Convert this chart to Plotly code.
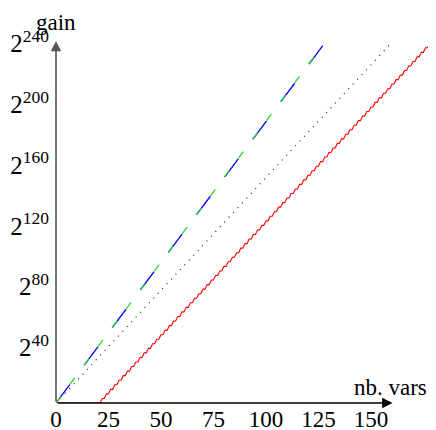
import plotly.graph_objects as go

# ---- data ----
x_ticks = [0, 25, 50, 75, 100, 125, 150]
y_ticks = [40, 80, 120, 160, 200, 240]
y_tick_text = ["2<sup>40</sup>", "2<sup>80</sup>", "2<sup>120</sup>",
               "2<sup>160</sup>", "2<sup>200</sup>", "2<sup>240</sup>"]

blue_n = [0, 129]
blue_gain = [0, 239]

green_n = [0, 124.3]
green_gain = [0, 230.6]

dotted_n = [0, 159.4]
dotted_gain = [0, 236.7]

red_n = list(range(182))
red_gain = [0, 0, 0, 0, 0, 0, 0, 0, 0, 0, 0, 0, 0, 0, 0, 0, 0, 0, 0, 0, 0, 0,
            3, 3, 6, 6, 9, 9, 12, 12, 15, 15, 18, 18, 21, 21, 24, 24, 27, 27, 30, 30,
            33, 33, 36, 36, 39, 39, 42, 42, 45, 45, 48, 48, 51, 51, 54, 54, 57, 57, 60, 60,
            63, 63, 66, 66, 69, 69, 72, 72, 75, 75, 78, 78, 81, 81, 84, 84, 87, 87, 90, 90,
            93, 93, 96, 96, 99, 99, 102, 102, 105, 105, 108, 108, 111, 111, 114, 114, 117, 117, 120, 120,
            123, 123, 126, 126, 129, 129, 132, 132, 135, 135, 138, 138, 141, 141, 144, 144, 147, 147, 150, 150,
            153, 153, 156, 156, 159, 159, 162, 162, 165, 165, 168, 168, 171, 171, 174, 174, 177, 177, 180, 180,
            183, 183, 186, 186, 189, 189, 192, 192, 195, 195, 198, 198, 201, 201, 204, 204, 207, 207, 210, 210,
            213, 213, 216, 216, 219, 219, 222, 222, 225, 225, 228, 228, 231, 231, 234, 234, 237, 237, 240, 240]

x_axis_end = 160.3
y_axis_end = 238.5

FONT = "Liberation Serif"

fig = go.Figure()
fig.add_trace(go.Scatter(x=red_n, y=red_gain, mode="lines",
                         line=dict(color="#ff0000", width=1.1)))
fig.add_trace(go.Scatter(x=dotted_n, y=dotted_gain, mode="lines",
                         line=dict(color="#222222", width=1.2, dash="1px,5.5px")))
fig.add_trace(go.Scatter(x=blue_n, y=blue_gain, mode="lines",
                         line=dict(color="#0000ff", width=1.3, dash="23px,24px")))
fig.add_trace(go.Scatter(x=green_n, y=green_gain, mode="lines",
                         line=dict(color="#22dd22", width=1.3, dash="8px,15.5px")))

# axes with arrows
fig.add_annotation(x=0, y=y_axis_end, ax=0, ay=0, axref="x", ayref="y",
                   xref="x", yref="y", text="", showarrow=True,
                   arrowhead=2, arrowsize=1.3, arrowwidth=1.6, arrowcolor="#555555")
fig.add_annotation(x=x_axis_end, y=0, ax=0, ay=0, axref="x", ayref="y",
                   xref="x", yref="y", text="", showarrow=True,
                   arrowhead=2, arrowsize=1.3, arrowwidth=1.6, arrowcolor="#000000")

fig.add_annotation(x=0, y=1.0, xref="x", yref="paper", text="gain", showarrow=False,
                   xanchor="center", yanchor="top", yshift=0,
                   font=dict(family=FONT, size=23, color="black"))
fig.add_annotation(x=177.5, y=0, xref="x", yref="y", text="nb. vars",
                   showarrow=False, xanchor="right", yanchor="bottom", yshift=1,
                   font=dict(family=FONT, size=23, color="black"))

# page body has an 8px default margin: figure is sized to fit the window
fig.update_layout(
    width=428, height=422,
    margin=dict(l=48, r=0, t=0, b=26.5),
    paper_bgcolor="white", plot_bgcolor="white",
    showlegend=False,
    xaxis=dict(range=[0, 181], tickvals=x_ticks, ticktext=[str(v) for v in x_ticks],
               showgrid=False, zeroline=False, showline=False, ticks="", ticklen=0,
               automargin=False,
               tickfont=dict(family=FONT, size=23, color="black")),
    yaxis=dict(range=[0, 260.2], tickvals=y_ticks, ticktext=y_tick_text,
               showgrid=False, zeroline=False, showline=False, ticks="", ticklen=0,
               automargin=False, ticklabelstandoff=6, ticklabelshift=5,
               tickfont=dict(family=FONT, size=25, color="black")),
)

fig.write_html("out.html")
